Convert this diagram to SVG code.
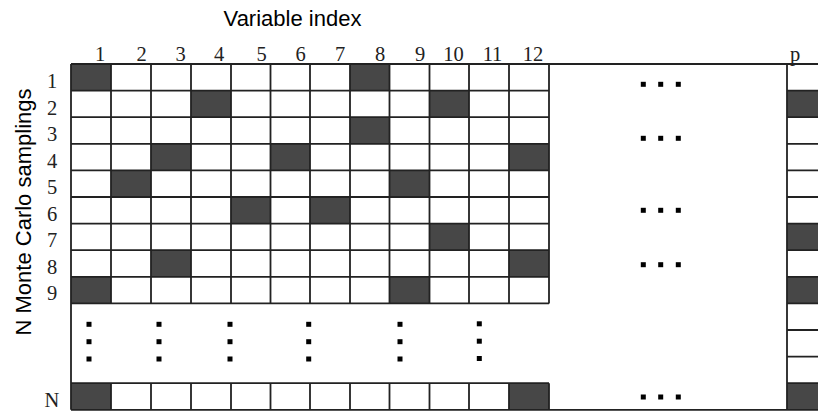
<svg xmlns="http://www.w3.org/2000/svg" width="818" height="412" viewBox="0 0 818 412">
<style>
.title{font-family:"Liberation Sans",Arial,sans-serif;font-size:22px;fill:#000}
.num{font-family:"Liberation Serif","Times New Roman",serif;font-size:20.5px;fill:#222;text-anchor:middle}
.dark{fill:#474747}
.grid{fill:none;stroke:#222;stroke-width:1.8}
.dot{fill:#000}
</style>
<defs>
<rect id="d" class="dot" width="5" height="5"/>
</defs>
<rect width="818" height="412" fill="#fff"/>
<g id="title-x"><text class="title" x="292.5" y="26" text-anchor="middle">Variable index</text></g>
<g id="title-y"><text class="title" transform="translate(31,212) rotate(-90)" text-anchor="middle">N Monte Carlo samplings</text></g>
<g id="col-labels">
<text class="num" x="100" y="61">1</text>
<text class="num" x="141.5" y="61">2</text>
<text class="num" x="180.5" y="61">3</text>
<text class="num" x="219" y="61">4</text>
<text class="num" x="261.5" y="61">5</text>
<text class="num" x="300.5" y="61">6</text>
<text class="num" x="340" y="61">7</text>
<text class="num" x="380" y="61">8</text>
<text class="num" x="420" y="61">9</text>
<text class="num" x="453.5" y="61">10</text>
<text class="num" x="492.5" y="61">11</text>
<text class="num" x="533" y="61">12</text>
<text class="num" x="795" y="61">p</text>
</g>
<g id="row-labels">
<text class="num" x="52" y="88">1</text>
<text class="num" x="52" y="114.5">2</text>
<text class="num" x="52" y="141">3</text>
<text class="num" x="52" y="167.5">4</text>
<text class="num" x="52" y="194">5</text>
<text class="num" x="52" y="220.5">6</text>
<text class="num" x="52" y="247">7</text>
<text class="num" x="52" y="273.5">8</text>
<text class="num" x="52" y="300">9</text>
<text class="num" x="52" y="407">N</text>
</g>
<g id="cells">
<rect class="dark" x="71" y="64" width="40" height="26.6"/>
<rect class="dark" x="350" y="64" width="39.5" height="26.6"/>
<rect class="dark" x="191" y="90.6" width="40" height="26.6"/>
<rect class="dark" x="429.5" y="90.6" width="39.5" height="26.6"/>
<rect class="dark" x="787" y="90.6" width="31" height="26.6"/>
<rect class="dark" x="350" y="117.2" width="39.5" height="26.6"/>
<rect class="dark" x="151" y="143.8" width="40" height="26.6"/>
<rect class="dark" x="270.5" y="143.8" width="39.5" height="26.6"/>
<rect class="dark" x="509" y="143.8" width="40" height="26.6"/>
<rect class="dark" x="111" y="170.4" width="40" height="26.6"/>
<rect class="dark" x="389.5" y="170.4" width="40" height="26.6"/>
<rect class="dark" x="231" y="197" width="39.5" height="26.6"/>
<rect class="dark" x="310" y="197" width="40" height="26.6"/>
<rect class="dark" x="429.5" y="223.6" width="39.5" height="26.6"/>
<rect class="dark" x="787" y="223.6" width="31" height="26.6"/>
<rect class="dark" x="151" y="250.2" width="40" height="26.6"/>
<rect class="dark" x="509" y="250.2" width="40" height="26.6"/>
<rect class="dark" x="71" y="276.8" width="40" height="26.6"/>
<rect class="dark" x="389.5" y="276.8" width="40" height="26.6"/>
<rect class="dark" x="787" y="276.8" width="31" height="26.6"/>
<rect class="dark" x="71" y="383.2" width="40" height="26.6"/>
<rect class="dark" x="509" y="383.2" width="40" height="26.6"/>
<rect class="dark" x="787" y="383.2" width="31" height="26.6"/>
</g>
<g id="grid-lines">
<path class="grid" d="M71 64H818M71 90.6H549M71 117.2H549M71 143.8H549M71 170.4H549M71 197H549M71 223.6H549M71 250.2H549M71 276.8H549M71 303.4H549M71 383.2H549M71 409.8H818"/>
<path class="grid" d="M787 90.6H818M787 117.2H818M787 143.8H818M787 170.4H818M787 197H818M787 223.6H818M787 250.2H818M787 276.8H818M787 303.4H818M787 330H818M787 356.6H818M787 383.2H818"/>
<path class="grid" d="M71 64V409.8M787 64V409.8M111 64V303.4M151 64V303.4M191 64V303.4M231 64V303.4M270.5 64V303.4M310 64V303.4M350 64V303.4M389.5 64V303.4M429.5 64V303.4M469 64V303.4M509 64V303.4M549 64V303.4"/>
<path class="grid" d="M111 383.2V409.8M151 383.2V409.8M191 383.2V409.8M231 383.2V409.8M270.5 383.2V409.8M310 383.2V409.8M350 383.2V409.8M389.5 383.2V409.8M429.5 383.2V409.8M469 383.2V409.8M509 383.2V409.8M549 383.2V409.8"/>
</g>
<g id="ellipsis-vertical">
<use href="#d" x="86.5" y="321.8"/><use href="#d" x="86.5" y="339.2"/><use href="#d" x="86.5" y="356.5"/>
<use href="#d" x="156.5" y="321.8"/><use href="#d" x="156.5" y="339.2"/><use href="#d" x="156.5" y="356.5"/>
<use href="#d" x="227.5" y="321.8"/><use href="#d" x="227.5" y="339.2"/><use href="#d" x="227.5" y="356.5"/>
<use href="#d" x="306.2" y="321.8"/><use href="#d" x="306.2" y="339.2"/><use href="#d" x="306.2" y="356.5"/>
<use href="#d" x="397.5" y="321.8"/><use href="#d" x="397.5" y="339.2"/><use href="#d" x="397.5" y="356.5"/>
<use href="#d" x="476.8" y="321.3"/><use href="#d" x="476.8" y="338.7"/><use href="#d" x="476.8" y="356"/>
</g>
<g id="ellipsis-horizontal">
<use href="#d" x="640.8" y="81.8"/><use href="#d" x="658.2" y="81.8"/><use href="#d" x="675.8" y="81.8"/>
<use href="#d" x="640.8" y="135.8"/><use href="#d" x="658.2" y="135.8"/><use href="#d" x="675.8" y="135.8"/>
<use href="#d" x="640.8" y="207.8"/><use href="#d" x="658.2" y="207.8"/><use href="#d" x="675.8" y="207.8"/>
<use href="#d" x="640.8" y="262.2"/><use href="#d" x="658.2" y="262.2"/><use href="#d" x="675.8" y="262.2"/>
<use href="#d" x="640.8" y="394.5"/><use href="#d" x="658.2" y="394.5"/><use href="#d" x="675.8" y="394.5"/>
</g>
</svg>
